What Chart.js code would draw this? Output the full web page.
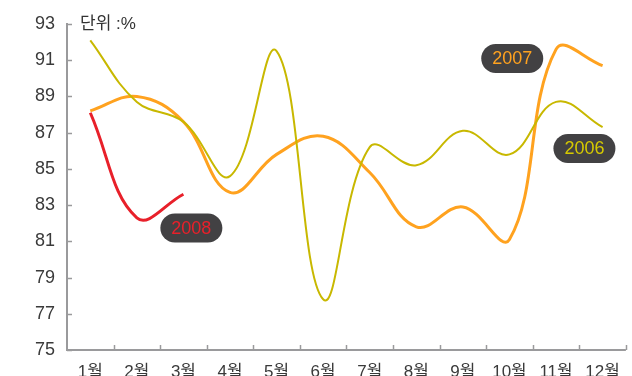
<!DOCTYPE html>
<html>
<head>
<meta charset="utf-8">
<script src="https://cdn.jsdelivr.net/npm/chart.js@4"></script>
<style>
  html, body { margin: 0; padding: 0; background: #fff; }
  #wrap { width: 632px; height: 376px; }
</style>
</head>
<body>
<div id="wrap"><canvas id="lineChart" width="632" height="376"></canvas></div>
<script>
const months = ["1월", "2월", "3월", "4월", "5월", "6월", "7월", "8월", "9월", "10월", "11월", "12월"];
const y2006 = [92.1, 88.7, 87.6, 84.6, 91.5, 77.8, 86.2, 85.2, 87.1, 85.8, 88.7, 87.3];
const y2007 = [88.2, 89.0, 87.6, 83.7, 85.8, 86.8, 84.8, 81.8, 82.9, 81.1, 91.6, 90.7];
const y2008 = [88.1, 82.3, 83.6];
const yTicks = [75, 77, 79, 81, 83, 85, 87, 89, 91, 93];

const fontFamily = "'Liberation Sans', Arial, 'Noto Sans CJK KR', sans-serif";

// etiquetas tipo "píldora" en coordenadas de datos (índice de mes, valor)
const seriesTags = [
    { text: "2007", color: "#FFA21F", at: 9.06, value: 91.1 },
    { text: "2006", color: "#D6C900", at: 10.61, value: 86.13 },
    { text: "2008", color: "#E8202A", at: 2.17, value: 81.74 }
];

const axisPlugin = {
    id: "axisPlugin",
    afterDraw(chart) {
        const ctx = chart.ctx;
        const xs = chart.scales.x;
        const ys = chart.scales.y;
        const left = chart.chartArea.left;
        const right = chart.chartArea.right;
        const bottom = chart.chartArea.bottom;
        const top = ys.getPixelForValue(93);

        ctx.save();
        ctx.strokeStyle = "#9a9a9c";
        ctx.lineWidth = 2;
        ctx.beginPath();
        ctx.moveTo(left, top - 1);
        ctx.lineTo(left, bottom);
        ctx.lineTo(right, bottom);
        ctx.stroke();

        // marcas hacia dentro
        ctx.lineWidth = 1.5;
        ctx.beginPath();
        yTicks.forEach(v => {
            const y = Math.round(ys.getPixelForValue(v)) + 0.5;
            ctx.moveTo(left, y);
            ctx.lineTo(left + 5, y);
        });
        const step = (right - left) / months.length;
        for (let i = 1; i <= months.length; i++) {
            const x = Math.round(left + i * step) + 0.5;
            ctx.moveTo(x, bottom);
            ctx.lineTo(x, bottom - 5);
        }
        ctx.stroke();

        // unidad
        ctx.fillStyle = "#333";
        ctx.font = "17px " + fontFamily;
        ctx.textAlign = "left";
        ctx.textBaseline = "middle";
        ctx.fillText("단위 :%", 80, 24);

        // etiquetas de series
        ctx.font = "18px " + fontFamily;
        ctx.textAlign = "center";
        seriesTags.forEach(tag => {
            const cx = xs.getPixelForValue(tag.at);
            const cy = ys.getPixelForValue(tag.value);
            const w = 62, h = 29;
            ctx.fillStyle = "#424143";
            ctx.beginPath();
            ctx.roundRect(cx - w / 2, cy - h / 2, w, h, h / 2);
            ctx.fill();
            ctx.fillStyle = tag.color;
            ctx.fillText(tag.text, cx, cy + 1);
        });
        ctx.restore();
    }
};

const ctx = document.getElementById("lineChart").getContext("2d");

new Chart(ctx, {
    type: "line",
    data: {
        labels: months,
        datasets: [
            {
                label: "2006",
                data: y2006,
                borderColor: "#C8B800",
                borderWidth: 2,
                pointRadius: 0,
                tension: 0.4
            },
            {
                label: "2007",
                data: y2007,
                borderColor: "#FFA21F",
                borderWidth: 3,
                pointRadius: 0,
                tension: 0.4
            },
            {
                label: "2008",
                data: y2008,
                borderColor: "#E8202A",
                borderWidth: 3,
                pointRadius: 0,
                tension: 0.4
            }
        ]
    },
    options: {
        responsive: false,
        animation: false,
        layout: { padding: { top: 24, right: 3, left: 0, bottom: 0 } },
        plugins: {
            legend: { display: false },
            tooltip: { enabled: false }
        },
        scales: {
            x: {
                offset: true,
                border: { display: false },
                grid: { display: false, offset: true, drawTicks: false },
                ticks: {
                    color: "#3a3a3a",
                    font: { family: fontFamily, size: 17 },
                    padding: 12,
                    maxRotation: 0,
                    autoSkip: false
                },
                afterFit(scale) { scale.height = 26; }
            },
            y: {
                min: 75,
                max: 93,
                border: { display: false },
                grid: { display: false, drawTicks: false },
                ticks: {
                    stepSize: 2,
                    color: "#3a3a3a",
                    font: { family: fontFamily, size: 18 },
                    padding: 12
                },
                afterFit(scale) { scale.width = 67; }
            }
        }
    },
    plugins: [axisPlugin]
});
</script>
</body>
</html>
